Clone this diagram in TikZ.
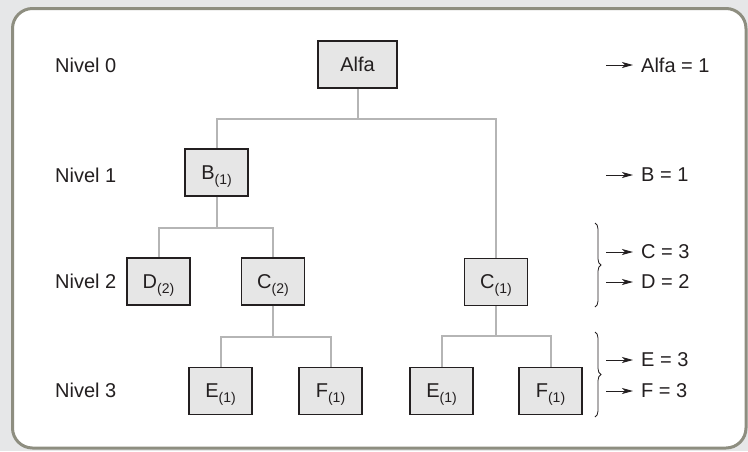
\documentclass[tikz,border=0pt]{standalone}
\usepackage{fontspec}
\setmainfont{Liberation Sans}
\usetikzlibrary{arrows.meta,decorations.pathreplacing}

\definecolor{panelgray}{HTML}{E6E7E8}
\definecolor{rimgray}{HTML}{8E8E80}
\definecolor{linegray}{HTML}{B5B5B5}
\definecolor{boxfill}{HTML}{E6E6E6}
\definecolor{ink}{HTML}{231F20}

\newcommand{\idx}[1]{\raisebox{-5pt}[0pt][0pt]{\fontsize{14}{16}\selectfont #1}}

\tikzset{
   box/.style={draw=ink, line width=1.2pt, fill=boxfill, minimum width=63pt,
      minimum height=47pt, inner sep=0pt, font=\fontsize{20}{24}\selectfont, text=ink},
   conn/.style={draw=linegray, line width=2pt},
   txt/.style={font=\fontsize{20}{24}\selectfont, text=ink, inner sep=0pt, anchor=west},
   arr/.style={-{Stealth[length=11pt,width=6pt,inset=3pt]}, line width=1pt, draw=ink, shorten >=8pt},
   brc/.style={decorate, decoration={brace, amplitude=6pt}, line width=0.8pt, draw=ink}
}

\begin{document}
\begin{tikzpicture}[x=1pt,y=-1pt]
   % Background and panel
   \fill[panelgray] (0,0) rectangle (748,451);
   \draw[rimgray, line width=3pt, fill=white, rounded corners=20pt] (12.5,8.5) rectangle (746,448);
   \useasboundingbox (0,0) rectangle (748,451);

   % Level labels
   \foreach \y [count=\i from 0] in {65,175,281,390} {
       \node[txt] (lvl\i) at (55,\y) {Nivel \i};
   }

   % Tree nodes
   \node[box, minimum width=79pt] (alfa) at (357.5,64.5) {Alfa};
   \node[box] (b) at (216.5,172.5) {B\idx{(1)}};
   \node[box] (d) at (158.5,281.5) {D\idx{(2)}};
   \node[box] (c2) at (273,281.5) {C\idx{(2)}};
   \node[box] (c1) at (496,282) {C\idx{(1)}};
   \node[box] (e2) at (220.5,391) {E\idx{(1)}};
   \node[box] (f2) at (330.5,391) {F\idx{(1)}};
   \node[box] (e1) at (441.5,391) {E\idx{(1)}};
   \node[box] (f1) at (550.5,391) {F\idx{(1)}};

   % Connectors
   \draw[conn] (alfa.south) -- ++(0,30) coordinate (j0) -| (b.north);
   \draw[conn] (j0) -| (c1.north);
   \draw[conn] (b.south) -- ++(0,31) coordinate (j1) -| (d.north);
   \draw[conn] (j1) -| (c2.north);
   \draw[conn] (c2.south) -- ++(0,31) coordinate (j2) -| (e2.north);
   \draw[conn] (j2) -| (f2.north);
   \draw[conn] (c1.south) -- ++(0,30) coordinate (j3) -| (e1.north);
   \draw[conn] (j3) -| (f1.north);

   % Counts on the right
   \foreach \y/\t/\n in {65/Alfa = 1/ralfa, 175/B = 1/rb, 252/C = 3/rc,
                         282/D = 2/rd, 360/E = 3/re, 391/F = 3/rf} {
       \node[txt] (\n) at (641,\y) {\t};
       \coordinate (\n-tail) at (606,\y);
       \draw[arr] (\n-tail) -- (\n);
   }

   % Braces
   \draw[brc] (595,223) -- (595,307);
   \draw[brc] (595,332) -- (595,417);
\end{tikzpicture}
\end{document}
